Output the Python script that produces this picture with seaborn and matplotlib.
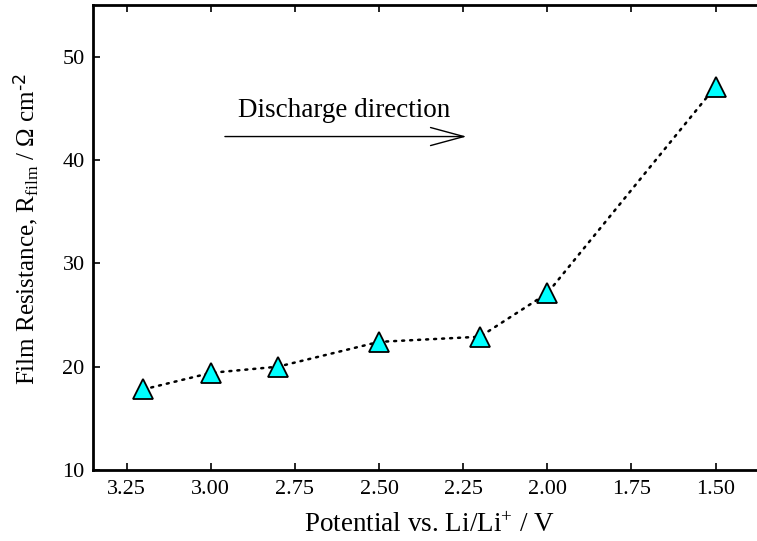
import matplotlib
matplotlib.use("Agg")
import matplotlib.pyplot as plt
import seaborn as sns
import pandas as pd

potential = [3.20, 3.00, 2.80, 2.50, 2.20, 2.00, 1.50]
resistance = [17.8, 19.4, 20.0, 22.4, 22.9, 27.1, 47.1]
x_ticks = [3.25, 3.00, 2.75, 2.50, 2.25, 2.00, 1.75, 1.50]
y_ticks = [10, 20, 30, 40, 50]

sns.set_theme(style="white")
plt.rcParams['font.family'] = ['Liberation Serif', 'DejaVu Serif']
plt.rcParams['mathtext.default'] = 'regular'
plt.rcParams['text.color'] = 'black'
plt.rcParams['axes.labelcolor'] = 'black'

df = pd.DataFrame({"Potential": potential, "Resistance": resistance})

fig = plt.figure(figsize=(7.57, 5.41), dpi=100)
ax = fig.add_axes([93/757, 71/541, 673/757, 465/541])

sns.lineplot(data=df, x="Potential", y="Resistance", ax=ax, sort=False,
             color="black", linestyle=(0, (0.8, 2.4)), linewidth=1.8,
             marker="^", markersize=15, markerfacecolor="#00ffff",
             markeredgecolor="black", markeredgewidth=1.3)
for l in ax.lines:
    l.set_dash_capstyle('round')

ax.set_xlim(3.35, 1.35)
ax.set_ylim(10, 55)
ax.set_xticks(x_ticks)
ax.set_xticklabels([f"{t:.2f}" for t in x_ticks])
ax.set_yticks(y_ticks)

for s in ax.spines.values():
    s.set_linewidth(2.0)
    s.set_color("black")

ax.tick_params(direction="in", length=5, width=1.2, labelsize=16, colors="black",
               top=True, right=True, bottom=True, left=True)
ax.tick_params(axis="x", pad=7)
ax.tick_params(axis="y", pad=6)

ax.set_xlabel("Potential vs. Li/Li$^{+}$ / V", fontsize=19.5, labelpad=10)
ax.set_ylabel("Film Resistance, R$_{film}$ / Ω cm$^{\\text{-2}}$", fontsize=18, labelpad=16)
ax.yaxis.label.set_y(0.518)

ax.text(2.919, 44.2, "Discharge direction", fontsize=19.5, ha="left", va="baseline")
ax.annotate("", xy=(2.24, 42.27), xytext=(2.958, 42.27),
            arrowprops=dict(arrowstyle="->,head_length=2.4,head_width=0.65",
                            mutation_scale=10, lw=1.0, color="black",
                            shrinkA=0, shrinkB=0))

fig.savefig("out.png", dpi=100)
